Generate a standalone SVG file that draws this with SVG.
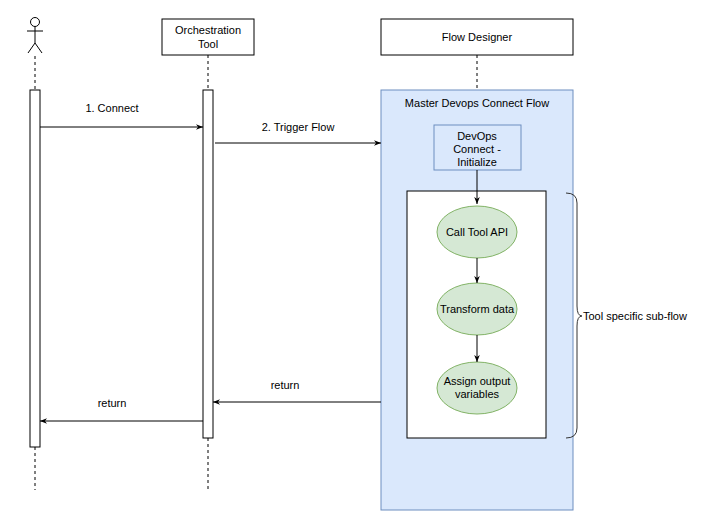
<svg xmlns="http://www.w3.org/2000/svg" width="711" height="522" viewBox="0 0 711 522">
<defs>
<marker id="ah" viewBox="0 0 10 10" refX="10" refY="5" markerWidth="7" markerHeight="7" orient="auto"><path d="M0,1 L10,5 L0,9 L3,5 Z" fill="#000"/></marker>
<style>
text{font-family:"Liberation Sans",Arial,sans-serif;font-size:11px;fill:#000;text-anchor:middle}
.box{fill:#fff;stroke:#000;stroke-width:1}
.dash{stroke:#000;stroke-dasharray:3,3;fill:none}
.ell{fill:#d5e8d4;stroke:#82b366}
.conn{stroke:#000;fill:none;marker-end:url(#ah)}
</style>
</defs>
<rect width="711" height="522" fill="#fff"/>
<g id="actor">
<circle cx="35" cy="22" r="4.5" class="box"/>
<path d="M35,26.5 V43 M27,31 H43 M35,43 L28,53 M35,43 L42,53" stroke="#000" fill="none"/>
<path d="M35,56 V90 M35,447 V490" class="dash"/>
<rect x="30" y="90" width="10" height="357" class="box"/>
</g>
<g id="orchestration">
<rect x="162" y="19" width="92" height="36" class="box"/>
<text x="208" y="34">Orchestration</text><text x="208" y="48">Tool</text>
<path d="M208,55 V90 M208,438 V490" class="dash"/>
<rect x="203" y="90" width="10" height="348" class="box"/>
</g>
<g id="flowdesigner">
<rect x="381" y="19" width="192" height="36" class="box"/>
<text x="477" y="41">Flow Designer</text>
<path d="M477,55 V90" class="dash"/>
</g>
<g id="master">
<rect x="381" y="90" width="192" height="420" fill="#dae8fc" stroke="#6c8ebf"/>
<text x="477" y="107">Master Devops Connect Flow</text>
</g>
<g id="init">
<rect x="434" y="125" width="87" height="45" fill="#dae8fc" stroke="#6c8ebf"/>
<text x="477" y="140">DevOps</text><text x="477" y="153">Connect -</text><text x="477" y="166">Initialize</text>
</g>
<g id="subflow"><rect x="407" y="191" width="139" height="247" class="box"/></g>
<g id="callapi"><ellipse cx="477" cy="232" rx="40" ry="26" class="ell"/><text x="477" y="236">Call Tool API</text></g>
<g id="transform"><ellipse cx="477" cy="309" rx="40" ry="26" class="ell"/><text x="477" y="313">Transform data</text></g>
<g id="assign"><ellipse cx="477" cy="388" rx="40" ry="26" class="ell"/><text x="477" y="385">Assign output</text><text x="477" y="398">variables</text></g>
<g id="brace">
<path d="M566,193 Q577,193 577,203 V306 Q577,316 582,316 Q577,316 577,326 V428 Q577,438 566,438" stroke="#333" fill="none"/>
<text x="583" y="320" style="text-anchor:start">Tool specific sub-flow</text>
</g>
<g id="connectors">
<path d="M40,127 H203" class="conn"/>
<path d="M215,143 H381" class="conn"/>
<path d="M381,402 H213" class="conn"/>
<path d="M203,421 H40" class="conn"/>
<path d="M477,170 V204" class="conn"/>
<path d="M477,258 V283" class="conn"/>
<path d="M477,335 V362" class="conn"/>
<text x="112" y="112">1. Connect</text>
<text x="298" y="131">2. Trigger Flow</text>
<text x="285" y="389">return</text>
<text x="112" y="407">return</text>
</g>
</svg>
